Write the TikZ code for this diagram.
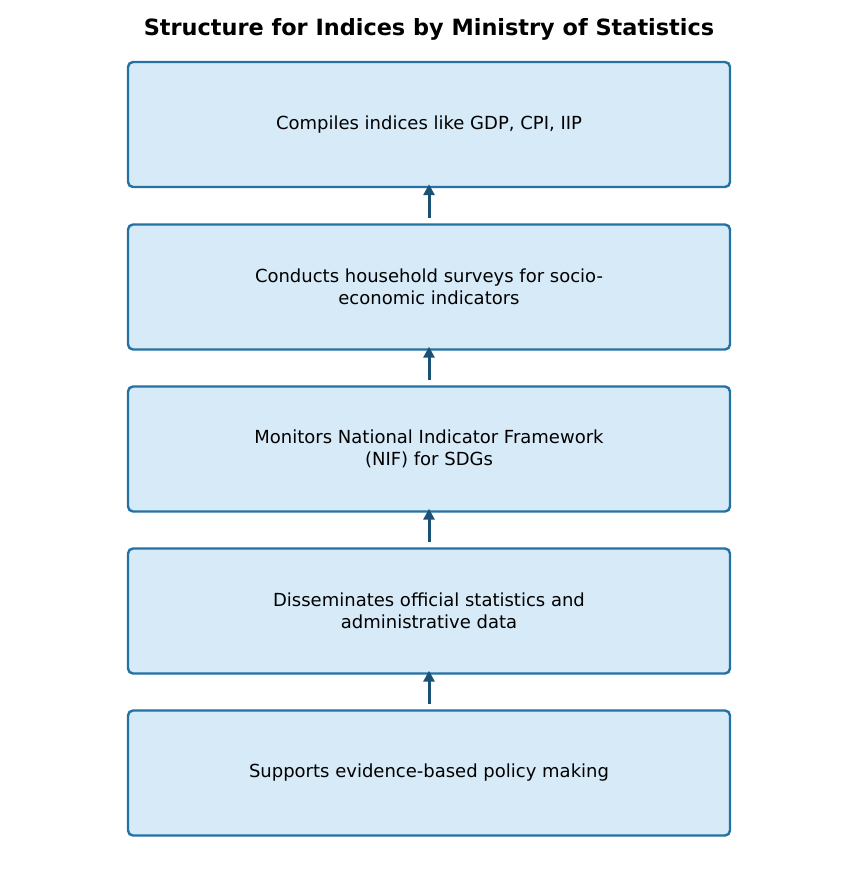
\documentclass[tikz,border=0pt]{standalone}
\usepackage{fontspec}
\setmainfont{DejaVu Sans}
\usetikzlibrary{arrows.meta}
\definecolor{boxfill}{HTML}{D6EAF8}
\definecolor{boxline}{HTML}{2471A3}
\definecolor{arrowc}{HTML}{1A5276}
\tikzset{
  stepbox/.style={draw=boxline, fill=boxfill, line width=2.4pt, rounded corners=5pt,
    minimum width=602pt, minimum height=125pt, align=center,
    font=\fontsize{18pt}{22pt}\selectfont, inner sep=0pt},
  conn/.style={draw=arrowc, line width=3pt, -{Triangle[length=11pt,width=11pt]}}
}
\begin{document}
\begin{tikzpicture}[x=1pt,y=-1pt]
\useasboundingbox (0,0) rectangle (858,877);
\node[font=\fontsize{22.4pt}{26pt}\selectfont\bfseries] (title) at (429,29) {Structure for Indices by Ministry of Statistics};
\node[stepbox] (b1) at (429,124.5) {Compiles indices like GDP, CPI, IIP};
\node[stepbox] (b2) at (429,287) {Conducts household surveys for socio-\\economic indicators};
\node[stepbox] (b3) at (429,449) {Monitors National Indicator Framework\\(NIF) for SDGs};
\node[stepbox] (b4) at (429,611) {Disseminates official statistics and\\administrative data};
\node[stepbox] (b5) at (429,773) {Supports evidence-based policy making};
\draw[conn] ([yshift=5pt]b2.north) -- ([yshift=4pt]b1.south);
\draw[conn] ([yshift=5pt]b3.north) -- ([yshift=4pt]b2.south);
\draw[conn] ([yshift=5pt]b4.north) -- ([yshift=4pt]b3.south);
\draw[conn] ([yshift=5pt]b5.north) -- ([yshift=4pt]b4.south);
\end{tikzpicture}
\end{document}
